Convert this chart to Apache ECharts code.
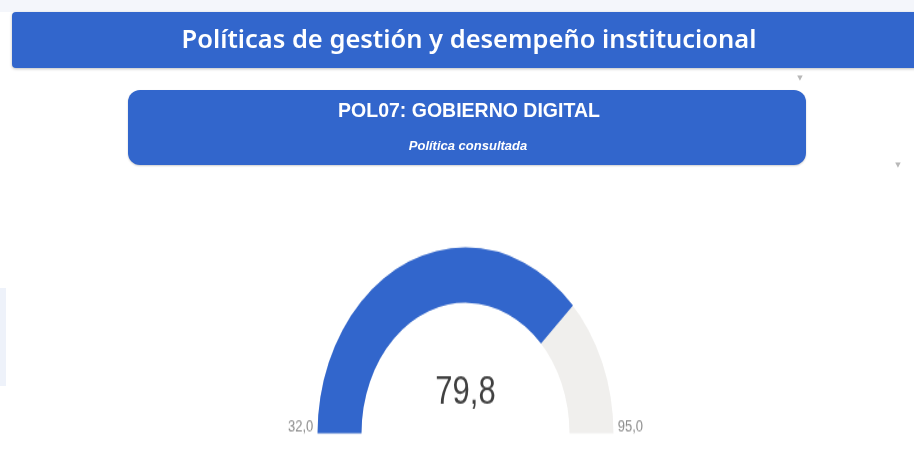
<!DOCTYPE html>
<html><head><meta charset="utf-8">
<script src="https://cdn.jsdelivr.net/npm/echarts@6/dist/echarts.min.js"></script>
<style>
html,body{margin:0;padding:0;background:#fff;overflow:hidden;width:914px;height:470px}
#head{position:absolute;left:0;top:0;width:914px;height:470px}
#gauge{position:absolute;left:0;top:170px;width:914px;height:240px;transform:scaleY(1.257);transform-origin:0 0}
</style></head><body>
<div id="head"></div><div id="gauge"></div>
<script>
// ---- data ----
const pageTitle = 'Políticas de gestión y desempeño institucional';
const policyName = 'POL07: GOBIERNO DIGITAL';
const policySubtitle = 'Política consultada';
const gaugeMin = 32.0;
const gaugeMax = 95.0;
const gaugeValues = [79.8];

const fmt = v => Number(v).toFixed(1).replace('.', ',');
const BLUE = '#3266cc';

const head = echarts.init(document.getElementById('head'), null, {renderer: 'canvas'});
head.setOption({
  backgroundColor: 'transparent',
  graphic: [
    {type: 'rect', shape: {x: 0, y: 0, width: 914, height: 12}, style: {fill: '#f4f6fb'}, silent: true},
    {type: 'rect', shape: {x: 0, y: 288, width: 6, height: 98}, style: {fill: '#eef2fa'}, silent: true},
    {type: 'rect', shape: {x: 12, y: 12, width: 920, height: 56, r: 4},
      style: {fill: BLUE, shadowBlur: 3, shadowColor: 'rgba(0,0,0,0.25)', shadowOffsetY: 1}, silent: true},
    {type: 'text', x: 469, y: 41, scaleY: 0.95, style: {text: pageTitle, fill: '#ffffff', align: 'center', verticalAlign: 'middle',
      font: '600 25.5px "Noto Sans"'}},
    {type: 'rect', shape: {x: 128, y: 90, width: 678, height: 75, r: 12},
      style: {fill: BLUE, shadowBlur: 2, shadowColor: 'rgba(0,0,0,0.2)', shadowOffsetY: 1}, silent: true},
    {type: 'text', x: 469, y: 111, scaleY: 1.08, style: {text: policyName, fill: '#ffffff', align: 'center', verticalAlign: 'middle',
      font: 'bold 19.5px "Liberation Sans"'}},
    {type: 'text', x: 468, y: 146, style: {text: policySubtitle, fill: '#ffffff', align: 'center', verticalAlign: 'middle',
      font: 'italic bold 13px "Liberation Sans"'}},
    {type: 'text', x: 800, y: 78, style: {text: '▼', fill: '#b8b8b8', align: 'center', verticalAlign: 'middle', font: '7px "DejaVu Sans"'}},
    {type: 'text', x: 898, y: 165, style: {text: '▼', fill: '#b8b8b8', align: 'center', verticalAlign: 'middle', font: '7px "DejaVu Sans"'}}
  ]
});

const gauge = echarts.init(document.getElementById('gauge'), null, {renderer: 'canvas'});
gauge.setOption({
  backgroundColor: 'transparent',
  series: [{
    type: 'gauge',
    center: [465.5, 209.6],
    radius: 148,
    startAngle: 180,
    endAngle: 0,
    min: gaugeMin,
    max: gaugeMax,
    splitNumber: 1,
    animation: false,
    pointer: {show: false},
    anchor: {show: false},
    progress: {show: true, width: 44, roundCap: false, itemStyle: {color: BLUE}},
    axisLine: {roundCap: false, lineStyle: {width: 44, color: [[1, '#f0efed']]}},
    axisTick: {show: false},
    splitLine: {show: false, length: 0, distance: 0},
    axisLabel: {
      show: true, distance: -29.5, color: '#8a8a8a', fontSize: 13,
      fontFamily: '"Liberation Sans", Arial, sans-serif',
      formatter: v => '{v|' + fmt(v) + '}\n{s| }',
      rich: {
        v: {fontSize: 13, color: '#8a8a8a', fontFamily: '"Liberation Sans", Arial, sans-serif', height: 14, lineHeight: 14},
        s: {fontSize: 4, height: 9.6, lineHeight: 9.6}
      }
    },
    title: {show: false},
    detail: {
      show: true, offsetCenter: [0, -32], fontSize: 31, fontWeight: 'normal',
      color: '#404040', fontFamily: '"Liberation Sans", Arial, sans-serif',
      formatter: v => fmt(v)
    },
    data: gaugeValues.map(v => ({value: v}))
  }]
});
</script>
</body></html>
